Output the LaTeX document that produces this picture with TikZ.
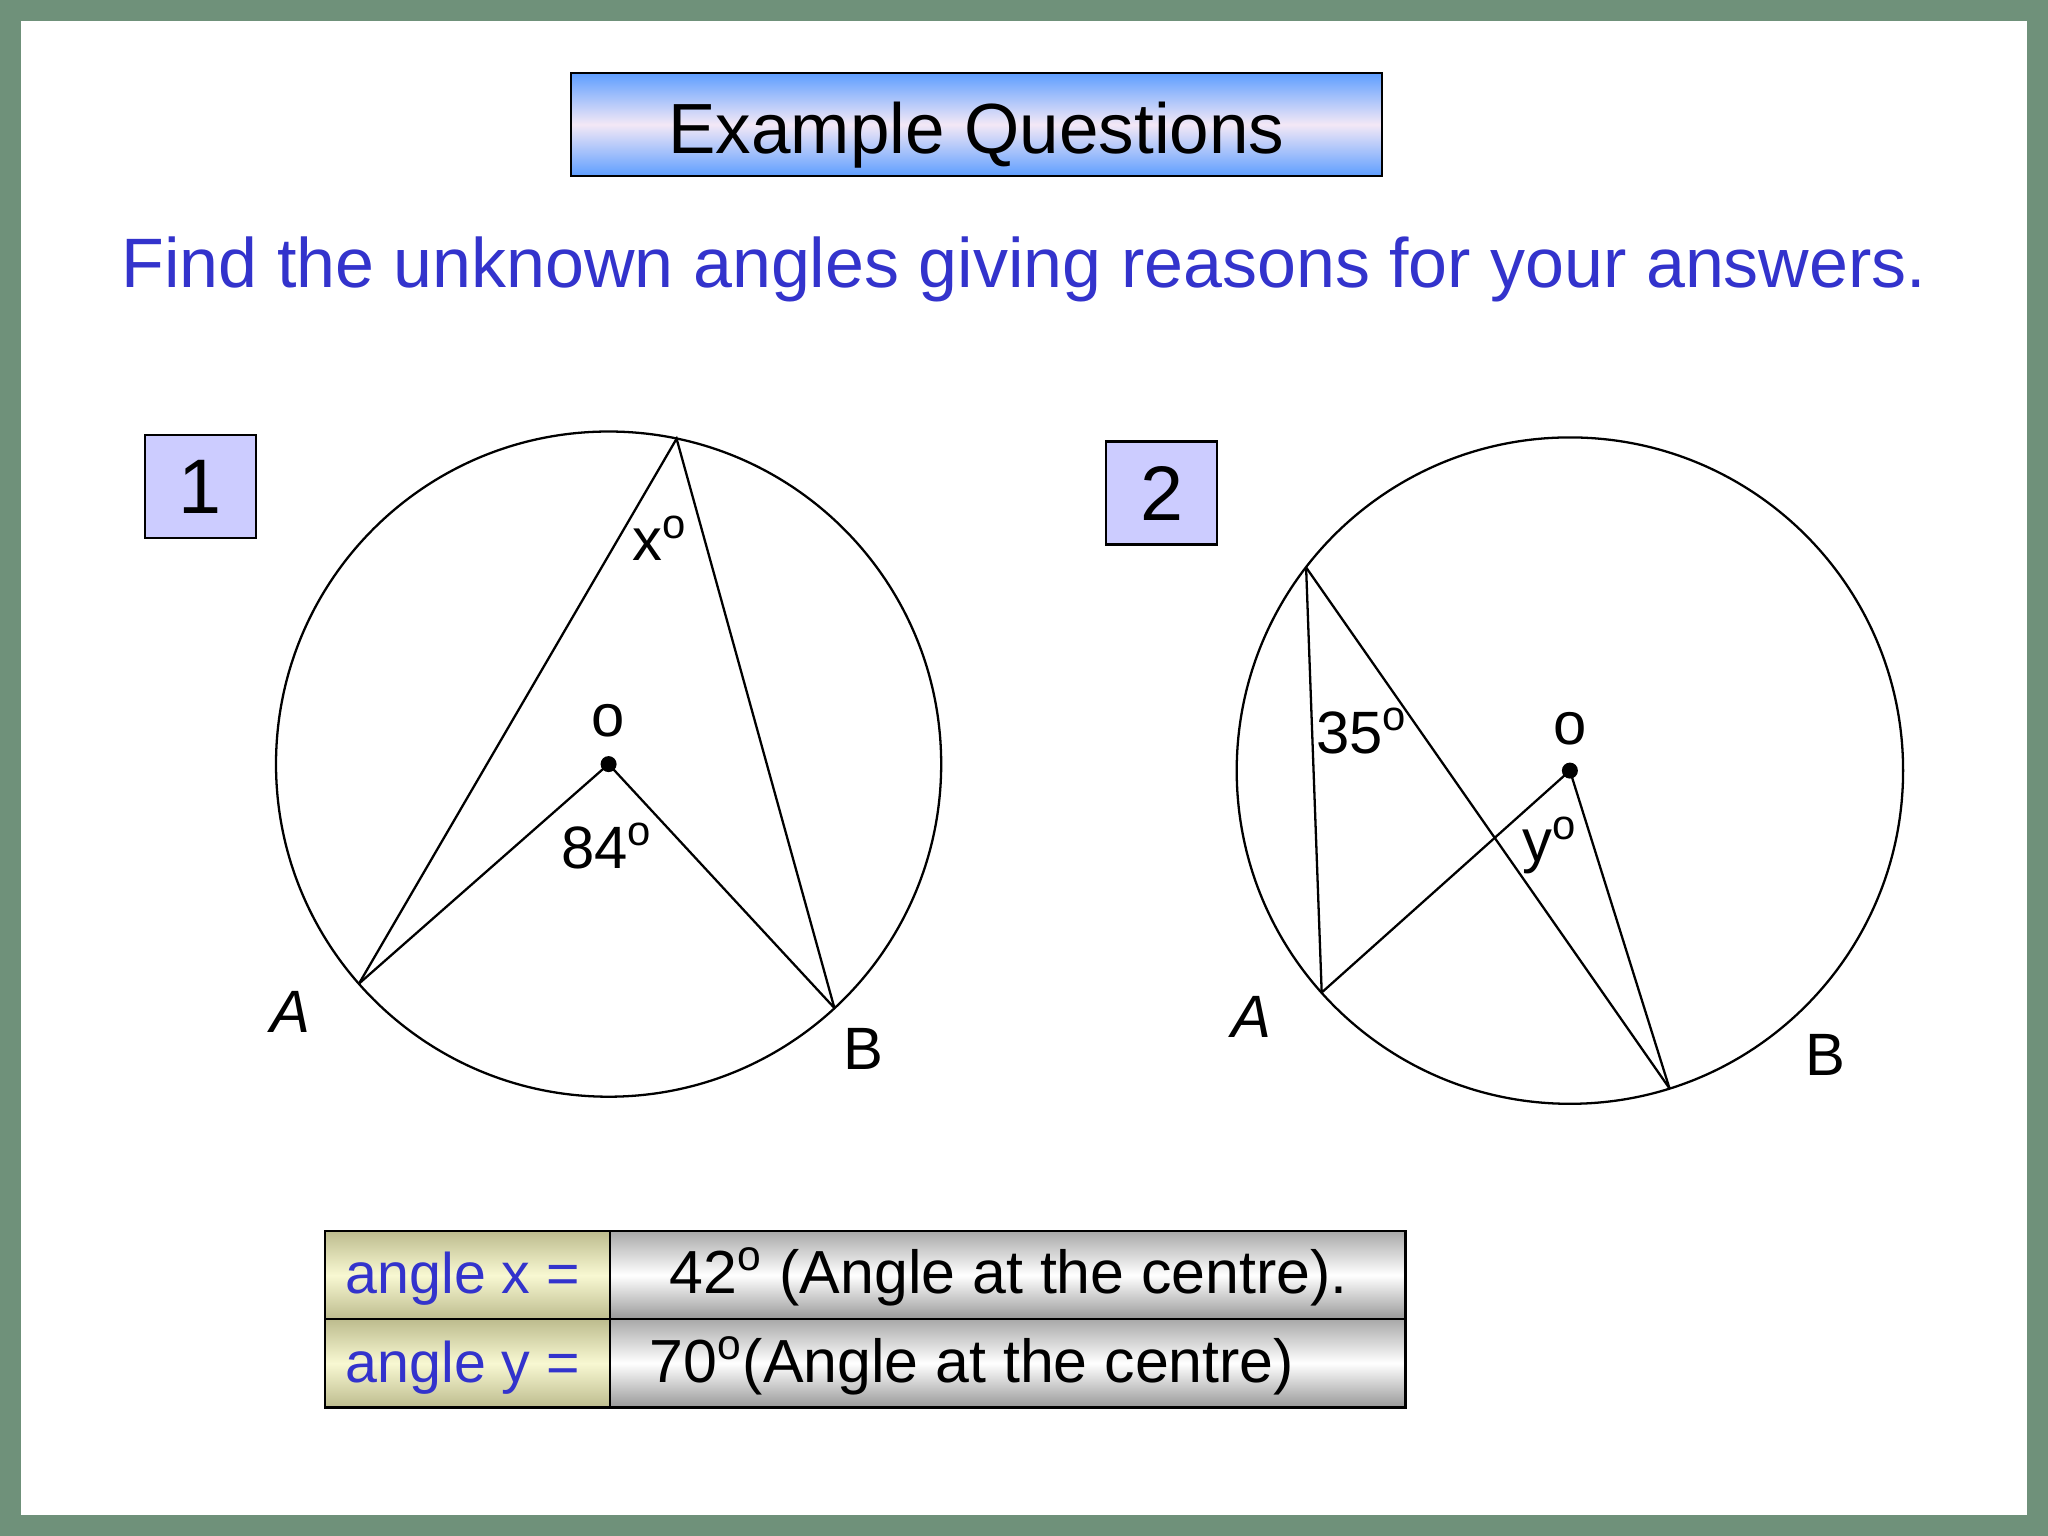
\documentclass[tikz,border=0pt]{standalone}
\usepackage{fontspec}
\setmainfont{Liberation Sans}
\definecolor{framegreen}{HTML}{6F917A}
\definecolor{qblue}{HTML}{3333CC}
\definecolor{lav}{HTML}{CCCCFF}
\definecolor{tblue}{HTML}{5E9EFF}
\definecolor{tpink}{HTML}{F3E8F6}
\definecolor{olivecell}{HTML}{BDBC8E}
\definecolor{palecell}{HTML}{F8F8D2}
\definecolor{greycell}{HTML}{A9A9A9}
\newcommand{\dg}{\textsuperscript{o}}
\begin{document}
\begin{tikzpicture}[x=0.01cm,y=-0.01cm,
  geo/.style={line width=0.65pt, black},
  lbl/.style={inner sep=0pt, font=\fontsize{17}{20}\selectfont},
  numbox/.style={draw=black, line width=0.7pt, fill=lav, minimum width=1.11cm, minimum height=1.03cm, inner sep=0pt, font=\fontsize{22}{26}\selectfont},
  lcell/.style={draw=black, line width=0.7pt, top color=olivecell, bottom color=olivecell, middle color=palecell, minimum width=2.85cm, minimum height=0.88cm, anchor=north west, inner sep=0pt},
  rcell/.style={draw=black, line width=0.7pt, top color=greycell, bottom color=greycell!90!black, middle color=white, minimum width=7.95cm, minimum height=0.88cm, anchor=north west, inner sep=0pt},
  anstext/.style={anchor=base west, inner sep=0pt, font=\fontsize{17.3}{21}\selectfont}
]
\useasboundingbox (0,0) rectangle (2048,1536);
\fill[framegreen] (0,0) rectangle (2048,1536);
\fill[white] (21,21) rectangle (2027,1515);

% title
\node[draw=black, line width=0.7pt, top color=tblue, bottom color=tblue, middle color=tpink,
      minimum width=8.11cm, minimum height=1.03cm, inner sep=0pt] (titlebox) at (976.5,124.5) {};
\node[anchor=base, inner sep=0pt, font=\fontsize{20.2}{25}\selectfont] (titletext) at (976.5,153) {Example Questions};

\node[anchor=base, inner sep=0pt, text=qblue, font=\fontsize{19.9}{24}\selectfont] (subtitle) at (1024,287)
  {Find the unknown angles giving reasons for your answers.};

% number boxes
\node[numbox] (n1) at (200.5,486.5) {1};
\node[numbox] (n2) at (1161.5,493) {2};

% circle 1
\coordinate (O1) at (608.6,764.1);
\coordinate (P1) at (676.6,438.7);
\coordinate (A1) at (359.0,983.6);
\coordinate (B1) at (834.4,1008.0);
\draw[geo] (O1) circle[radius=3.324cm];
\draw[geo] (A1) -- (P1) -- (B1);
\draw[geo] (A1) -- (O1) -- (B1);
\fill (O1) circle[radius=0.08cm];
\node[lbl] (x1) at (660,538) {x\dg};
\node[lbl] (o1) at (608.6,721) {o};
\node[lbl] (a84) at (607,846) {84\dg};
\node[lbl] (la1) at (290,1012) {\itshape A};
\node[lbl] (lb1) at (863,1049) {B};

% circle 2
\coordinate (O2) at (1569.9,770.6);
\coordinate (C2) at (1306.1,567.4);
\coordinate (A2) at (1321.7,992.5);
\coordinate (B2) at (1669.5,1088.4);
\draw[geo] (O2) circle[radius=3.33cm];
\draw[geo] (C2) -- (A2);
\draw[geo] (C2) -- (B2);
\draw[geo] (A2) -- (O2) -- (B2);
\fill (O2) circle[radius=0.08cm];
\node[lbl] (a35) at (1362,731) {35\dg};
\node[lbl] (o2) at (1570,729) {o};
\node[lbl] (y2) at (1550,845) {y\dg};
\node[lbl] (la2) at (1251,1017) {\itshape A};
\node[lbl] (lb2) at (1825,1055) {B};

% answer table
\node[lcell] (lx) at (324,1230) {};
\node[rcell] (rx) at (609,1230) {};
\node[lcell] (ly) at (324,1318) {};
\node[rcell] (ry) at (609,1318) {};
\node[anstext, text=qblue, font=\fontsize{16.3}{20}\selectfont] (tlx) at (345,1293) {angle x =};
\node[anstext, text=qblue, font=\fontsize{16.3}{20}\selectfont] (tly) at (345,1382) {angle y =};
\node[anstext] (trx) at (669,1293) {42\dg\ (Angle at the centre).};
\node[anstext] (try) at (649,1382) {70\dg(Angle at the centre)};
\end{tikzpicture}
\end{document}
